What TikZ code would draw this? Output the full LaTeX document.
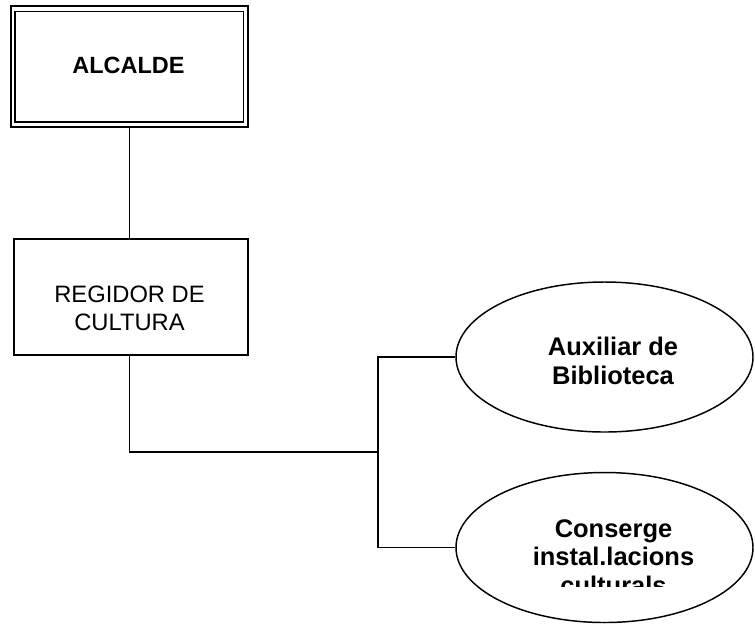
\documentclass[tikz,border=0pt]{standalone}
\usepackage{fontspec}
\setmainfont{Liberation Sans}
\usetikzlibrary{shapes.geometric}
\begin{document}
\begin{tikzpicture}[x=0.75pt,y=-0.75pt,
  conn/.style={line width=1.1pt},
  boxA/.style={draw,line width=1.5pt,rectangle,minimum width=237*0.75pt,minimum height=121*0.75pt,inner sep=0pt},
  boxR/.style={draw,line width=1.2pt,rectangle,minimum width=234*0.75pt,minimum height=116*0.75pt,inner sep=0pt},
  oval/.style={draw,line width=1.1pt,ellipse,minimum width=297*0.75pt,minimum height=150*0.75pt,inner sep=0pt},
  txt/.style={anchor=base,inner sep=0pt}
]
\useasboundingbox (0,0) rectangle (755,626);
% ALCALDE
\node[boxA] (a) at (129.5,66.5) {};
\draw[line width=1.1pt] ([xshift=5*0.75pt,yshift=-6.5*0.75pt]a.north west) rectangle ([xshift=-5.5*0.75pt,yshift=6*0.75pt]a.south east);
\node[txt] (at) at (128.5,73.3) {\fontsize{17.6}{21}\selectfont\bfseries ALCALDE};
% REGIDOR
\node[boxR] (r) at (131,297) {};
\node[txt] (rt) at (129.5,302) {\fontsize{17.8}{21}\selectfont\begin{tabular}[t]{@{}c@{}}REGIDOR DE\\CULTURA\end{tabular}};
% ellipses
\node[oval] (e1) at (604.5,357) {};
\node[oval] (e2) at (604.5,547.5) {};
\node[txt] (e1t) at (613,355) {\fontsize{19.1}{22}\selectfont\bfseries\begin{tabular}[t]{@{}c@{}}Auxiliar de\\Biblioteca\end{tabular}};
\begin{scope}
\clip (450,470) rectangle (755,586);
\node[txt] (e2t) at (613.5,537) {\fontsize{19.1}{21.5}\selectfont\bfseries\begin{tabular}[t]{@{}c@{}}Conserge\\instal.lacions\\culturals\end{tabular}};
\end{scope}
% connectors
\coordinate (j) at (378,452);
\draw[conn] (a.south) -- (a.south |- r.north);
\draw[conn] ([xshift=-1.5*0.75pt]r.south) |- (j);
\draw[conn] (e1.west) -| (j) |- (e2.west);
\end{tikzpicture}
\end{document}
